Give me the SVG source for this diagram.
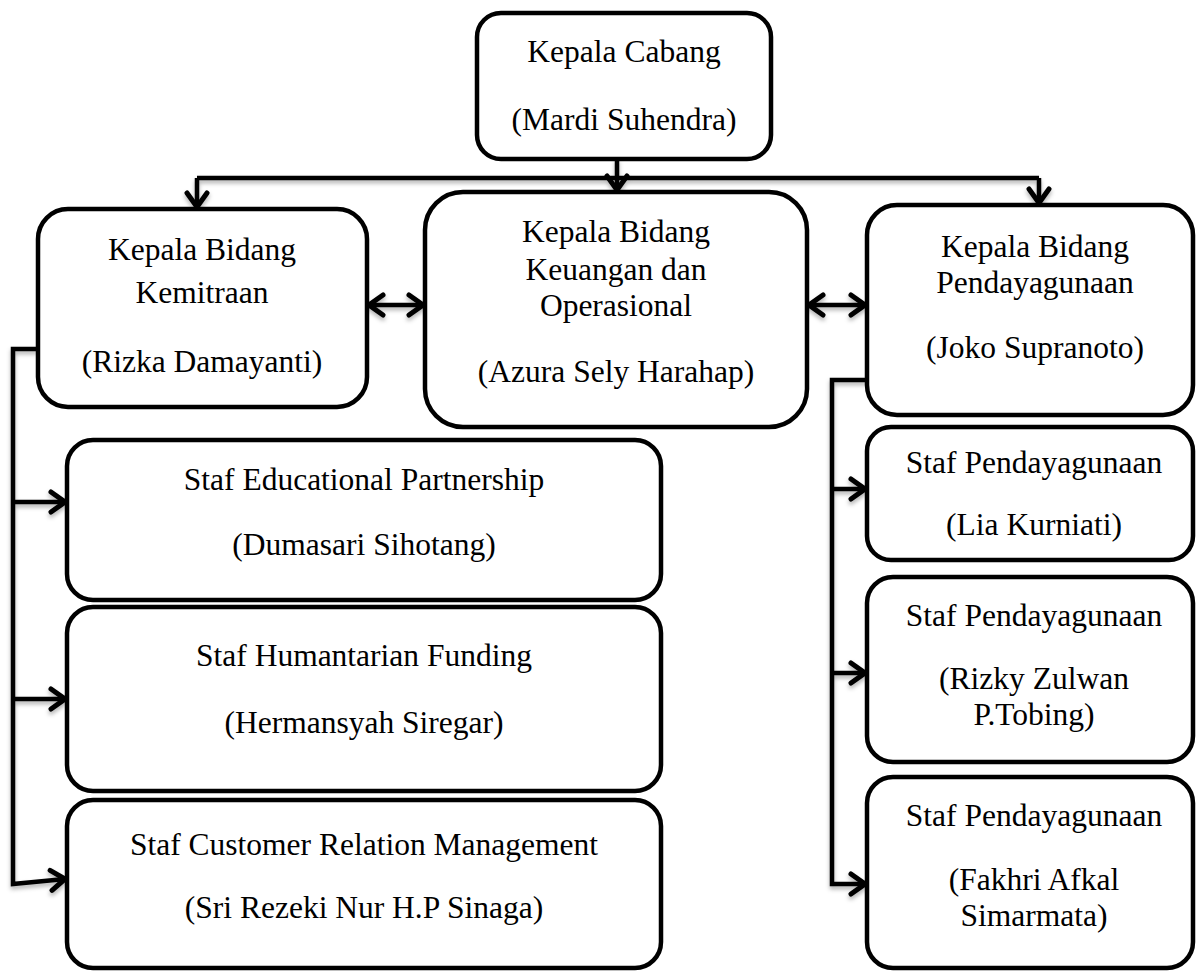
<svg xmlns="http://www.w3.org/2000/svg" width="1196" height="971" viewBox="0 0 1196 971">
  <defs>
    <style>
      .box { fill: #ffffff; stroke: #000000; stroke-width: 4.5; }
      .t { font-family: "Liberation Serif", "Times New Roman", serif; font-size: 31.5px; fill: #000000; text-anchor: middle; }
      .c { fill: none; stroke: #000000; stroke-width: 4.5; stroke-linejoin: miter; }
    </style>
    <filter id="sh" x="-20%" y="-20%" width="140%" height="140%">
      <feDropShadow dx="0" dy="3" stdDeviation="2" flood-color="#000000" flood-opacity="0.3"/>
    </filter>
    <marker id="ah" viewBox="-18 -13 20 26" refX="0" refY="0" markerWidth="20" markerHeight="26" markerUnits="userSpaceOnUse" orient="auto-start-reverse">
      <path d="M-14,-10 L0,0 L-14,10" fill="none" stroke="#000000" stroke-width="5" stroke-linecap="round" stroke-linejoin="miter"/>
    </marker>
  </defs>
  <rect width="1196" height="971" fill="#ffffff"/>

  <g id="connectors" filter="url(#sh)">
    <path class="c" d="M617,159 V190" marker-end="url(#ah)"/>
    <path class="c" d="M197,178 H1039"/>
    <path class="c" d="M197,178 V207" marker-end="url(#ah)"/>
    <path class="c" d="M1039,178 V203" marker-end="url(#ah)"/>
    <path class="c" d="M369,305 H423" marker-start="url(#ah)" marker-end="url(#ah)"/>
    <path class="c" d="M809,305 H865" marker-start="url(#ah)" marker-end="url(#ah)"/>
    <path class="c" d="M38,349 H13 V884 L65,879" marker-end="url(#ah)"/>
    <path class="c" d="M13,502 H65" marker-end="url(#ah)"/>
    <path class="c" d="M13,699 H65" marker-end="url(#ah)"/>
    <path class="c" d="M867,380 H832 V884 H865" marker-end="url(#ah)"/>
    <path class="c" d="M832,489 H865" marker-end="url(#ah)"/>
    <path class="c" d="M832,673 H865" marker-end="url(#ah)"/>
  </g>

  <g id="kepala-cabang">
    <rect class="box" x="477" y="13" width="294" height="146" rx="24"/>
    <text class="t" x="624" y="62">Kepala Cabang</text>
    <text class="t" x="624" y="130">(Mardi Suhendra)</text>
  </g>

  <g id="kb-kemitraan">
    <rect class="box" x="38" y="209" width="329" height="198" rx="30"/>
    <text class="t" x="202" y="260">Kepala Bidang</text>
    <text class="t" x="202" y="303">Kemitraan</text>
    <text class="t" x="202" y="372">(Rizka Damayanti)</text>
  </g>

  <g id="kb-keuangan">
    <rect class="box" x="425" y="192" width="382" height="235" rx="38"/>
    <text class="t" x="616" y="242">Kepala Bidang</text>
    <text class="t" x="616" y="280">Keuangan dan</text>
    <text class="t" x="616" y="316">Operasional</text>
    <text class="t" x="616" y="382">(Azura Sely Harahap)</text>
  </g>

  <g id="kb-pendayagunaan">
    <rect class="box" x="867" y="205" width="326" height="210" rx="30"/>
    <text class="t" x="1035" y="257">Kepala Bidang</text>
    <text class="t" x="1035" y="293">Pendayagunaan</text>
    <text class="t" x="1035" y="358">(Joko Supranoto)</text>
  </g>

  <g id="staf-educational">
    <rect class="box" x="67" y="440" width="594" height="160" rx="26"/>
    <text class="t" x="364" y="490">Staf Educational Partnership</text>
    <text class="t" x="364" y="555">(Dumasari Sihotang)</text>
  </g>

  <g id="staf-humantarian">
    <rect class="box" x="67" y="607" width="594" height="184" rx="26"/>
    <text class="t" x="364" y="666">Staf Humantarian Funding</text>
    <text class="t" x="364" y="733">(Hermansyah Siregar)</text>
  </g>

  <g id="staf-crm">
    <rect class="box" x="67" y="800" width="594" height="168" rx="26"/>
    <text class="t" x="364" y="855">Staf Customer Relation Management</text>
    <text class="t" x="364" y="918">(Sri Rezeki Nur H.P Sinaga)</text>
  </g>

  <g id="staf-lia">
    <rect class="box" x="867" y="427" width="326" height="133" rx="24"/>
    <text class="t" x="1034" y="473">Staf Pendayagunaan</text>
    <text class="t" x="1034" y="535">(Lia Kurniati)</text>
  </g>

  <g id="staf-rizky">
    <rect class="box" x="867" y="577" width="326" height="185" rx="26"/>
    <text class="t" x="1034" y="626">Staf Pendayagunaan</text>
    <text class="t" x="1034" y="689">(Rizky Zulwan</text>
    <text class="t" x="1034" y="725">P.Tobing)</text>
  </g>

  <g id="staf-fakhri">
    <rect class="box" x="867" y="777" width="326" height="191" rx="26"/>
    <text class="t" x="1034" y="826">Staf Pendayagunaan</text>
    <text class="t" x="1034" y="890">(Fakhri Afkal</text>
    <text class="t" x="1034" y="926">Simarmata)</text>
  </g>
</svg>
